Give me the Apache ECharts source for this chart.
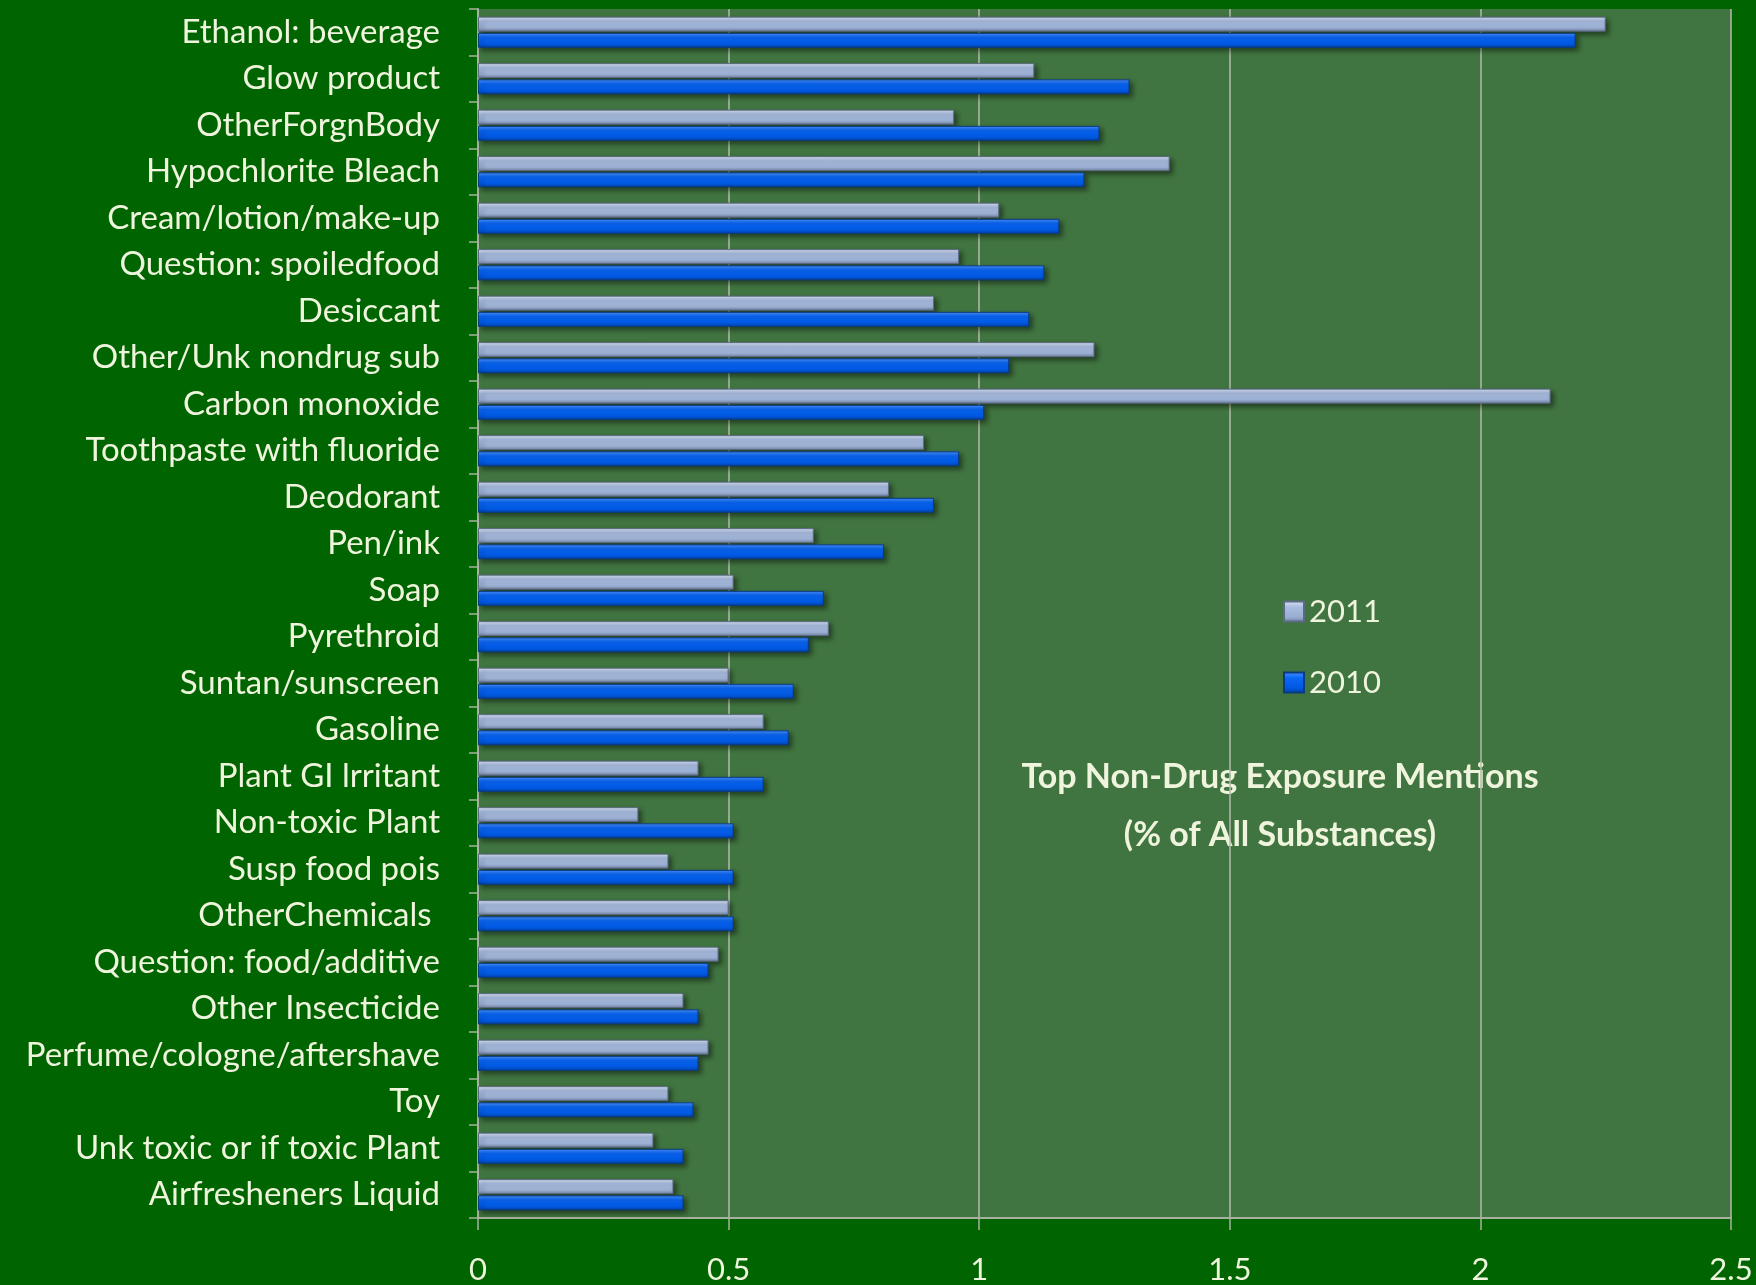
<!DOCTYPE html>
<html>
<head>
<meta charset="utf-8">
<script src="https://cdn.jsdelivr.net/npm/echarts@6/dist/echarts.min.js"></script>
<style>
  html, body { margin: 0; padding: 0; background: #006400; }
  #chart { width: 1756px; height: 1285px; }
</style>
</head>
<body>
<div id="chart"></div>
<script>
var categories = ['Ethanol: beverage', 'Glow product', 'OtherForgnBody', 'Hypochlorite Bleach',
    'Cream/lotion/make-up', 'Question: spoiledfood', 'Desiccant', 'Other/Unk nondrug sub',
    'Carbon monoxide', 'Toothpaste with fluoride', 'Deodorant', 'Pen/ink', 'Soap', 'Pyrethroid',
    'Suntan/sunscreen', 'Gasoline', 'Plant GI lrritant', 'Non-toxic Plant', 'Susp food pois',
    'OtherChemicals ', 'Question: food/additive', 'Other Insecticide', 'Perfume/cologne/aftershave',
    'Toy', 'Unk toxic or if toxic Plant', 'Airfresheners Liquid'];

var values2011 = [2.25, 1.11, 0.95, 1.38, 1.04, 0.96, 0.91, 1.23, 2.14, 0.89, 0.82, 0.67, 0.51,
    0.70, 0.50, 0.57, 0.44, 0.32, 0.38, 0.50, 0.48, 0.41, 0.46, 0.38, 0.35, 0.39];

var values2010 = [2.19, 1.30, 1.24, 1.21, 1.16, 1.13, 1.10, 1.06, 1.01, 0.96, 0.91, 0.81, 0.69,
    0.66, 0.63, 0.62, 0.57, 0.51, 0.51, 0.51, 0.46, 0.44, 0.44, 0.43, 0.41, 0.41];

var xTicks = [0, 0.5, 1, 1.5, 2, 2.5];

var textColor = '#eef5dc';
var fontName = 'Lato, "Open Sans", sans-serif';

var chart = echarts.init(document.getElementById('chart'));

function grad(c1, c2, c3, c4) {
    return new echarts.graphic.LinearGradient(0, 0, 0, 1, [
        {offset: 0, color: c1},
        {offset: 0.3, color: c2},
        {offset: 0.75, color: c3},
        {offset: 1, color: c4}
    ]);
}

var barShadow = {
    shadowColor: 'rgba(0,0,0,0.45)',
    shadowBlur: 5,
    shadowOffsetX: 3,
    shadowOffsetY: 3
};

var option = {
    backgroundColor: '#006400',
    animation: false,
    grid: {
        left: 478,
        right: 25,
        top: 9,
        bottom: 65,
        show: true,
        backgroundColor: '#407440',
        borderWidth: 0
    },
    legend: {
        orient: 'vertical',
        left: 1278,
        top: 591,
        itemWidth: 20,
        itemHeight: 20,
        itemGap: 40,
        icon: 'rect',
        textStyle: {color: textColor, fontSize: 31, fontFamily: fontName},
        data: ['2011', '2010']
    },
    graphic: [{
        type: 'text',
        x: 1280,
        y: 748,
        style: {
            text: 'Top Non-Drug Exposure Mentions\n(% of All Substances)',
            fill: textColor,
            font: 'bold 34px ' + fontName,
            textAlign: 'center',
            lineHeight: 58
        }
    }],
    xAxis: {
        type: 'value',
        min: 0,
        max: 2.5,
        interval: 0.5,
        axisLine: {show: true, lineStyle: {color: '#a8b0a0', width: 2}},
        axisTick: {show: true, length: 12, lineStyle: {color: '#a8b0a0', width: 1.5}},
        splitLine: {show: true, lineStyle: {color: '#b4bcac', width: 1.5}},
        axisLabel: {
            color: textColor, fontSize: 31, fontFamily: fontName, margin: 36,
            formatter: function (v) { return xTicks.indexOf(v) >= 0 ? String(v) : ''; }
        }
    },
    yAxis: {
        type: 'category',
        inverse: true,
        data: categories,
        axisLine: {show: true, lineStyle: {color: '#a8b0a0', width: 2}},
        axisTick: {show: true, length: 9, lineStyle: {color: '#a8b0a0', width: 1.5}},
        axisLabel: {color: textColor, fontSize: 33, fontFamily: fontName, margin: 38}
    },
    series: [{
        name: '2011',
        type: 'bar',
        data: values2011,
        barWidth: 15,
        barGap: '8%',
        itemStyle: Object.assign({
            color: grad('#dbe5f5', '#a9bde0', '#9aaed2', '#6f7f9e'),
            borderColor: '#5d6a84',
            borderWidth: 1
        }, barShadow)
    }, {
        name: '2010',
        type: 'bar',
        data: values2010,
        barWidth: 15,
        barGap: '8%',
        itemStyle: Object.assign({
            color: grad('#4d93ff', '#0a66f5', '#0058e0', '#0040a8'),
            borderColor: '#0a3a80',
            borderWidth: 1
        }, barShadow)
    }]
};

chart.setOption(option);
</script>
</body>
</html>
